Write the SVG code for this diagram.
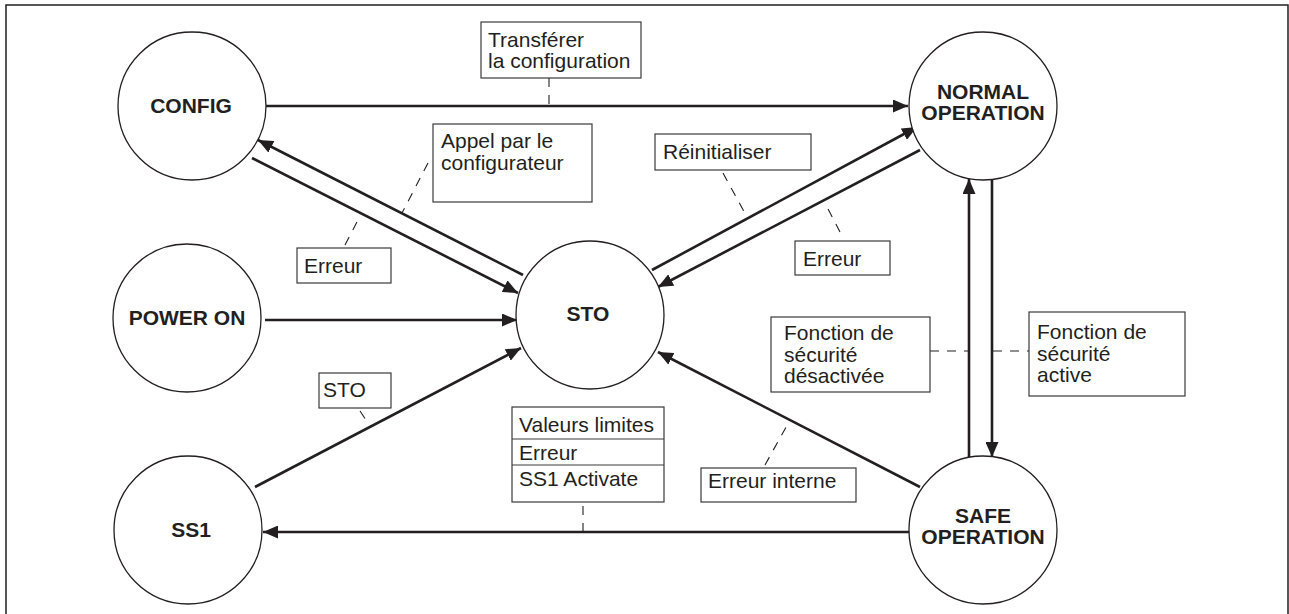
<svg xmlns="http://www.w3.org/2000/svg" width="1289" height="614" viewBox="0 0 1289 614">
<style>
.node{fill:#fff;stroke:#231f20;stroke-width:1.3}
.nt{font-family:"Liberation Sans",Arial,sans-serif;font-weight:bold;font-size:21px;fill:#231f20;text-anchor:middle}
.lt{font-family:"Liberation Sans",Arial,sans-serif;font-size:21px;fill:#231f20}
.box{fill:#fff;stroke:#3a3a3a;stroke-width:1.2}
.edge{fill:none;stroke:#231f20;stroke-width:2.6}
.lead{fill:none;stroke:#231f20;stroke-width:1.1;stroke-dasharray:9,8}
</style>
<defs>
<marker id="ah" markerUnits="userSpaceOnUse" markerWidth="16" markerHeight="13" refX="15" refY="6.5" orient="auto">
<path d="M0,0 L15,6.5 L0,13 z" fill="#231f20"/>
</marker>
</defs>
<rect width="1289" height="614" fill="#fff"/>
<path d="M6,614 V5 H1288 V614" fill="none" stroke="#231f20" stroke-width="1.5"/>

<g id="connectors">
<line class="edge" x1="266" y1="106" x2="908" y2="106" marker-end="url(#ah)"/>
<line class="edge" x1="523" y1="275" x2="258" y2="140" marker-end="url(#ah)"/>
<line class="edge" x1="252" y1="158" x2="518" y2="293" marker-end="url(#ah)"/>
<line class="edge" x1="265" y1="320" x2="517" y2="320" marker-end="url(#ah)"/>
<line class="edge" x1="255" y1="487" x2="521" y2="348" marker-end="url(#ah)"/>
<line class="edge" x1="652" y1="270" x2="917" y2="127" marker-end="url(#ah)"/>
<line class="edge" x1="920" y1="150" x2="658" y2="287" marker-end="url(#ah)"/>
<line class="edge" x1="920" y1="487" x2="658" y2="352" marker-end="url(#ah)"/>
<line class="edge" x1="969" y1="457" x2="969" y2="179" marker-end="url(#ah)"/>
<line class="edge" x1="992" y1="180" x2="992" y2="457" marker-end="url(#ah)"/>
<line class="edge" x1="911" y1="532" x2="263" y2="532" marker-end="url(#ah)"/>
</g>

<g id="leaders">
<line class="lead" x1="549" y1="78" x2="549" y2="105"/>
<line class="lead" x1="428" y1="163" x2="402" y2="213"/>
<line class="lead" x1="345" y1="245" x2="360" y2="216"/>
<line class="lead" x1="723" y1="173" x2="747" y2="217"/>
<line class="lead" x1="840" y1="232" x2="825" y2="203"/>
<line class="lead" x1="360" y1="411" x2="366" y2="420"/>
<line class="lead" x1="930" y1="351" x2="968" y2="351"/>
<line class="lead" x1="993" y1="351" x2="1029" y2="351"/>
<line class="lead" x1="583" y1="506" x2="583" y2="531"/>
<line class="lead" x1="765" y1="465" x2="790" y2="420"/>
</g>

<g id="n-config"><circle class="node" cx="192" cy="106" r="74"/><text class="nt" x="191" y="113">CONFIG</text></g>
<g id="n-normal"><circle class="node" cx="983" cy="106" r="74"/><text class="nt" x="983" y="99">NORMAL</text><text class="nt" x="983" y="120">OPERATION</text></g>
<g id="n-poweron"><circle class="node" cx="187" cy="318" r="74"/><text class="nt" x="187" y="325">POWER ON</text></g>
<g id="n-sto"><circle class="node" cx="590" cy="315" r="74"/><text class="nt" x="588" y="321">STO</text></g>
<g id="n-ss1"><circle class="node" cx="188" cy="530" r="74"/><text class="nt" x="191" y="537">SS1</text></g>
<g id="n-safe"><circle class="node" cx="983" cy="530" r="74"/><text class="nt" x="983" y="523">SAFE</text><text class="nt" x="983" y="544">OPERATION</text></g>

<g id="l-transferer"><rect class="box" x="481" y="22" width="160" height="56"/><text class="lt" x="488" y="47">Transférer</text><text class="lt" x="488" y="68">la configuration</text></g>
<g id="l-appel"><rect class="box" x="433" y="124" width="159" height="78"/><text class="lt" x="441" y="148">Appel par le</text><text class="lt" x="441" y="170">configurateur</text></g>
<g id="l-erreur1"><rect class="box" x="297" y="248" width="94" height="35"/><text class="lt" x="304" y="273">Erreur</text></g>
<g id="l-reinit"><rect class="box" x="655" y="134" width="156" height="36"/><text class="lt" x="663" y="159">Réinitialiser</text></g>
<g id="l-erreur2"><rect class="box" x="795" y="241" width="95" height="34"/><text class="lt" x="803" y="266">Erreur</text></g>
<g id="l-sto"><rect class="box" x="319" y="373" width="72" height="35"/><text class="lt" x="323" y="397">STO</text></g>
<g id="l-desact"><rect class="box" x="771" y="317" width="159" height="75"/><text class="lt" x="784" y="340">Fonction de</text><text class="lt" x="784" y="362">sécurité</text><text class="lt" x="784" y="383">désactivée</text></g>
<g id="l-active"><rect class="box" x="1029" y="312" width="156" height="84"/><text class="lt" x="1037" y="339">Fonction de</text><text class="lt" x="1037" y="361">sécurité</text><text class="lt" x="1037" y="382">active</text></g>
<g id="l-limites"><rect class="box" x="512" y="407" width="152" height="95"/><line class="box" x1="512" y1="439" x2="664" y2="439"/><line class="box" x1="512" y1="465" x2="664" y2="465"/><text class="lt" x="519" y="432">Valeurs limites</text><text class="lt" x="519" y="460">Erreur</text><text class="lt" x="519" y="486">SS1 Activate</text></g>
<g id="l-interne"><rect class="box" x="701" y="468" width="155" height="34"/><text class="lt" x="708" y="488">Erreur interne</text></g>
</svg>
